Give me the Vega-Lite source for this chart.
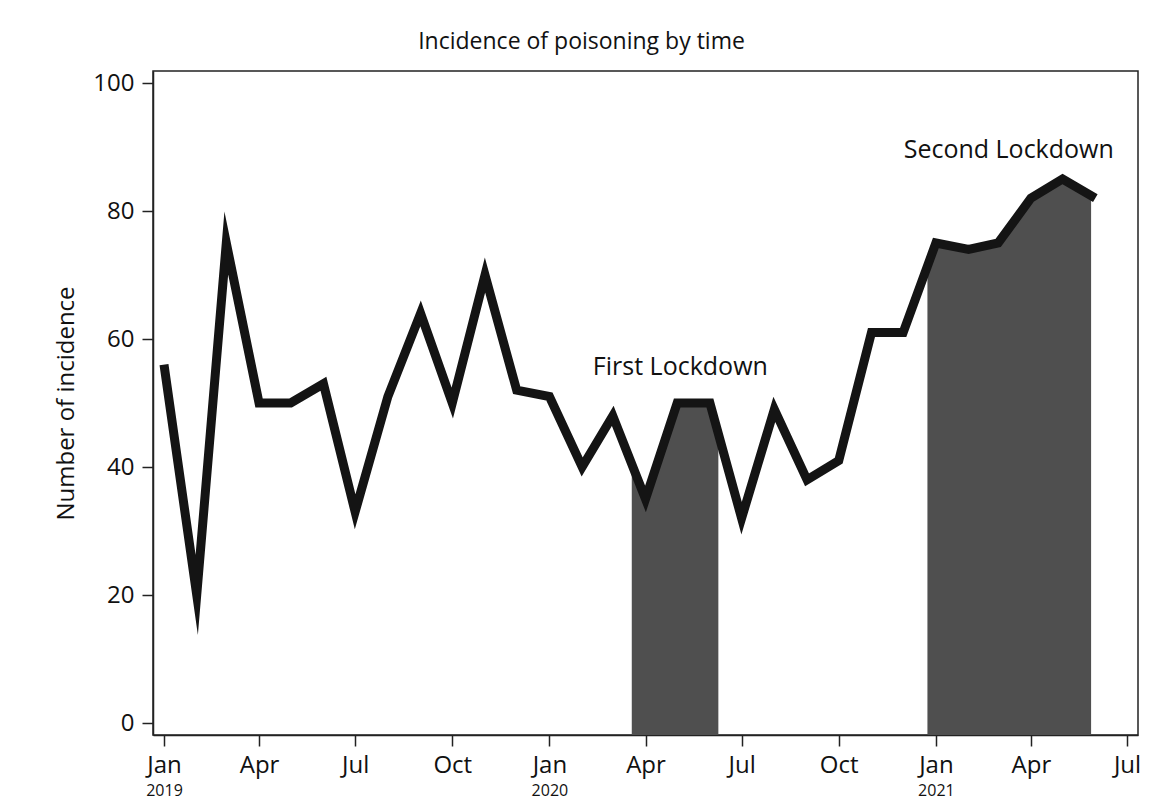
{
  "$schema": "https://vega.github.io/schema/vega-lite/v6.json",
  "width": 985,
  "height": 664,
  "autosize": "none",
  "padding": {"left": 153, "top": 71, "right": 25, "bottom": 76},
  "background": "white",
  "title": {
    "text": "Incidence of poisoning by time",
    "font": "Open Sans",
    "fontSize": 23,
    "fontWeight": "normal",
    "color": "#111111",
    "anchor": "middle",
    "dx": -64,
    "offset": 17
  },
  "datasets": {
    "incidence": [
      {"date": "2019-01-01", "value": 56},
      {"date": "2019-02-01", "value": 20},
      {"date": "2019-03-01", "value": 75},
      {"date": "2019-04-01", "value": 50},
      {"date": "2019-05-01", "value": 50},
      {"date": "2019-06-01", "value": 53},
      {"date": "2019-07-01", "value": 33},
      {"date": "2019-08-01", "value": 51},
      {"date": "2019-09-01", "value": 64},
      {"date": "2019-10-01", "value": 50},
      {"date": "2019-11-01", "value": 70},
      {"date": "2019-12-01", "value": 52},
      {"date": "2020-01-01", "value": 51},
      {"date": "2020-02-01", "value": 40},
      {"date": "2020-03-01", "value": 48},
      {"date": "2020-04-01", "value": 35},
      {"date": "2020-05-01", "value": 50},
      {"date": "2020-06-01", "value": 50},
      {"date": "2020-07-01", "value": 32},
      {"date": "2020-08-01", "value": 49},
      {"date": "2020-09-01", "value": 38},
      {"date": "2020-10-01", "value": 41},
      {"date": "2020-11-01", "value": 61},
      {"date": "2020-12-01", "value": 61},
      {"date": "2021-01-01", "value": 75},
      {"date": "2021-02-01", "value": 74},
      {"date": "2021-03-01", "value": 75},
      {"date": "2021-04-01", "value": 82},
      {"date": "2021-05-01", "value": 85},
      {"date": "2021-06-01", "value": 82}
    ],
    "lockdown": [
      {"date": "2020-03-19", "value": 40, "period": "First Lockdown"},
      {"date": "2020-04-01", "value": 35, "period": "First Lockdown"},
      {"date": "2020-05-01", "value": 50, "period": "First Lockdown"},
      {"date": "2020-06-01", "value": 50, "period": "First Lockdown"},
      {"date": "2020-06-09", "value": 45, "period": "First Lockdown"},
      {"date": "2020-12-24", "value": 72, "period": "Second Lockdown"},
      {"date": "2021-01-01", "value": 75, "period": "Second Lockdown"},
      {"date": "2021-02-01", "value": 74, "period": "Second Lockdown"},
      {"date": "2021-03-01", "value": 75, "period": "Second Lockdown"},
      {"date": "2021-04-01", "value": 82, "period": "Second Lockdown"},
      {"date": "2021-05-01", "value": 85, "period": "Second Lockdown"},
      {"date": "2021-05-28", "value": 82.4, "period": "Second Lockdown"}
    ],
    "labels": [
      {"date": "2020-05-04", "value": 54.4, "label": "First Lockdown"},
      {"date": "2021-03-11", "value": 88.3, "label": "Second Lockdown"}
    ]
  },
  "layer": [
    {
      "data": {"name": "lockdown"},
      "mark": {"type": "area", "color": "#4f4f4f", "opacity": 1},
      "encoding": {
        "x": {
          "field": "date",
          "type": "temporal",
          "scale": {
            "type": "utc",
            "domain": [
              {"utc": true, "year": 2018, "month": 12, "date": 21, "hours": 14},
              {"utc": true, "year": 2021, "month": 7, "date": 11, "hours": 10}
            ]
          },
          "axis": {
            "orient": "bottom",
            "tickCount": {"interval": "year", "step": 1},
            "format": "%Y",
            "ticks": false,
            "tickSize": 0,
            "domain": false,
            "labelFontSize": 16,
            "labelPadding": 47,
            "labelFlush": false,
            "labelOverlap": false,
            "title": null
          }
        },
        "y": {
          "field": "value",
          "type": "quantitative",
          "stack": null,
          "scale": {"domain": [-1.875, 101.875], "nice": false, "zero": false},
          "axis": {
            "values": [0, 20, 40, 60, 80, 100],
            "tickSize": 11,
            "labelPadding": 8,
            "labelFontSize": 24,
            "title": "Number of incidence",
            "titleFontSize": 24,
            "titleFontWeight": "normal",
            "titlePadding": 14
          }
        },
        "y2": {"value": {"expr": "height"}},
        "detail": {"field": "period"}
      }
    },
    {
      "data": {"name": "incidence"},
      "mark": {
        "type": "line",
        "color": "#141414",
        "strokeWidth": 9,
        "strokeJoin": "miter",
        "strokeMiterLimit": 20
      },
      "encoding": {
        "x": {
          "field": "date",
          "type": "temporal",
          "axis": {
            "orient": "bottom",
            "tickCount": {"interval": "month", "step": 3},
            "format": "%b",
            "tickSize": 11,
            "labelFontSize": 24,
            "labelPadding": 7,
            "labelFlush": false,
            "labelOverlap": false,
            "title": null
          }
        },
        "y": {"field": "value", "type": "quantitative"}
      }
    },
    {
      "data": {"name": "labels"},
      "mark": {
        "type": "text",
        "font": "Open Sans",
        "fontSize": 25,
        "align": "center",
        "baseline": "alphabetic",
        "color": "#111111"
      },
      "encoding": {
        "x": {"field": "date", "type": "temporal", "axis": null},
        "y": {"field": "value", "type": "quantitative"},
        "text": {"field": "label"}
      }
    }
  ],
  "resolve": {"axis": {"x": "independent"}},
  "config": {
    "font": "Open Sans",
    "axis": {
      "labelFont": "Open Sans",
      "titleFont": "Open Sans",
      "labelColor": "#111111",
      "titleColor": "#111111",
      "tickColor": "#222222",
      "domainColor": "#222222",
      "tickWidth": 1.5,
      "domainWidth": 1.5,
      "grid": false
    },
    "view": {"stroke": "#222222", "strokeWidth": 1.5}
  }
}
